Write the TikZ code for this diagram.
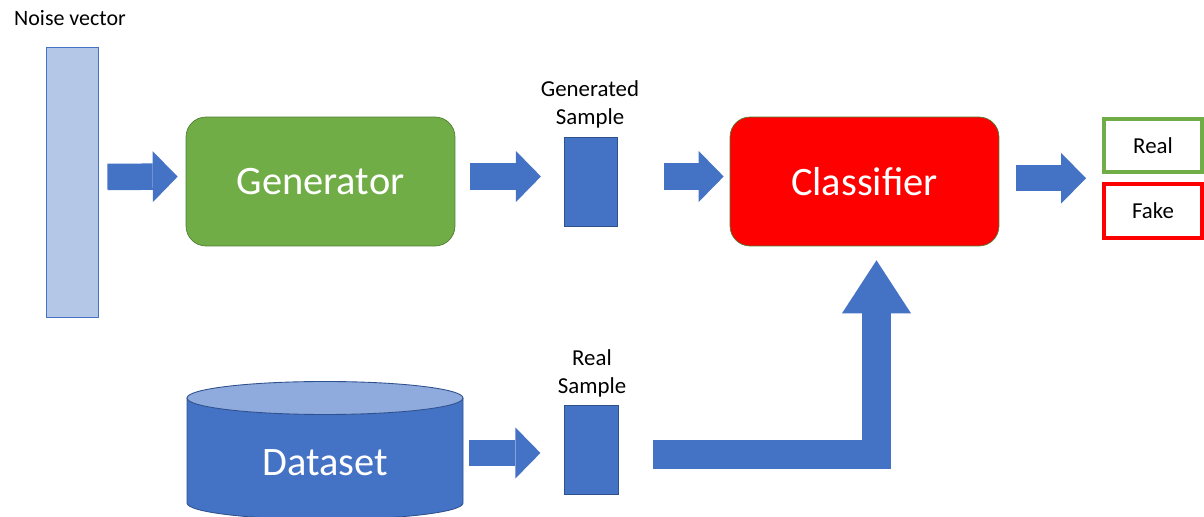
\documentclass[tikz,border=0pt]{standalone}
\usepackage{fontspec}
\setmainfont{Carlito}
\usepackage{xcolor}
\usetikzlibrary{arrows.meta, positioning, calc}

\definecolor{boxblue}{HTML}{4472C4}
\definecolor{edgeblue}{HTML}{2F528F}
\definecolor{paleblue}{HTML}{B4C7E7}
\definecolor{topblue}{HTML}{8FAADC}
\definecolor{gengreen}{HTML}{70AD47}
\definecolor{edgegreen}{HTML}{507E32}

\begin{document}
\begin{tikzpicture}[x=0.02cm, y=0.02cm,
    block/.style={rounded corners=0.4cm, minimum width=5.38cm, minimum height=2.58cm,
        inner sep=0pt, text=white, font=\fontsize{23}{28}\selectfont},
    sample/.style={draw=edgeblue, fill=boxblue, line width=0.4pt, inner sep=0pt,
        minimum width=1.07cm, minimum height=1.78cm},
    caption/.style={align=center, font=\fontsize{13}{16}\selectfont},
    verdict/.style={fill=white, line width=2.3pt, minimum width=1.96cm,
        inner sep=0pt, font=\fontsize{13}{16}\selectfont},
    blockarrow/.style={boxblue, line width=0.53cm,
        -{Triangle[length=0.5cm, width=1.02cm, line width=0pt]}}]
    \useasboundingbox (0, 0) rectangle (1204, 517);

    % noise input
    \node[draw=boxblue, fill=paleblue, line width=0.5pt, inner sep=0pt,
        minimum width=1.04cm, minimum height=5.4cm] (noise) at (72, 335) {};
    \node[font=\fontsize{12.5}{15}\selectfont] (noiselbl) at (70, 499) {Noise vector};

    % generator and classifier
    \node[block, fill=gengreen, draw=edgegreen] (gen) at (320.5, 335.5) {Generator};
    \node[block, fill=red, draw=edgegreen] (clf) at (864.5, 335.5) {Classifier};

    % samples
    \node[sample] (gensample) at (591, 335.5) {};
    \node[caption] (genlbl) at (590, 413) {Generated\\Sample};
    \node[sample] (realsample) at (591.5, 67.5) {};
    \node[caption] (reallbl) at (592, 143.5) {Real\\Sample};

    % outputs
    \node[verdict, draw=gengreen, minimum height=1.06cm] (real) at (1153, 371.5) {Real};
    \node[verdict, draw=red, minimum height=1.08cm] (fake) at (1153, 306) {Fake};

    % dataset cylinder
    \filldraw[fill=boxblue, draw=edgeblue, line width=0.5pt]
        (187, 119) -- (187, 14) arc[start angle=180, end angle=360, x radius=138, y radius=16.5]
        -- (463, 119);
    \filldraw[fill=topblue, draw=edgeblue, line width=0.5pt]
        (325, 119) ellipse [x radius=138, y radius=16.5];
    \node[minimum width=5.52cm, inner sep=0pt, text=white,
        font=\fontsize{23}{28}\selectfont] (dataset) at (325, 54) {Dataset};

    % block arrows
    \draw[blockarrow, shorten <=0.18cm, shorten >=0.16cm]
        ([yshift=0.1cm]noise.east) -- ([yshift=0.1cm]gen.west);
    \draw[blockarrow, shorten <=0.3cm, shorten >=0.46cm]
        ([yshift=0.1cm]gen.east) -- ([yshift=0.1cm]gensample.west);
    \draw[blockarrow, shorten <=0.92cm, shorten >=0.12cm]
        ([yshift=0.1cm]gensample.east) -- ([yshift=0.1cm]clf.west);
    \coordinate (rf) at ($(real.west)!0.5!(fake.west)$);
    \draw[blockarrow, shorten <=0.34cm, shorten >=0.32cm]
        (clf.east |- rf) -- (rf);
    \coordinate (dsout) at (dataset.east |- realsample.west);
    \draw[blockarrow, shorten <=0.12cm, shorten >=0.48cm]
        ([yshift=-0.07cm]dsout) -- ([yshift=-0.07cm]realsample.west);
    \draw[boxblue, line width=0.58cm, line join=miter, shorten <=0.68cm, shorten >=0.28cm,
        -{Triangle[length=1.06cm, width=1.38cm, line width=0pt]}]
        ([yshift=-0.1cm]realsample.east) -| ([xshift=0.24cm]clf.south);
\end{tikzpicture}
\end{document}
